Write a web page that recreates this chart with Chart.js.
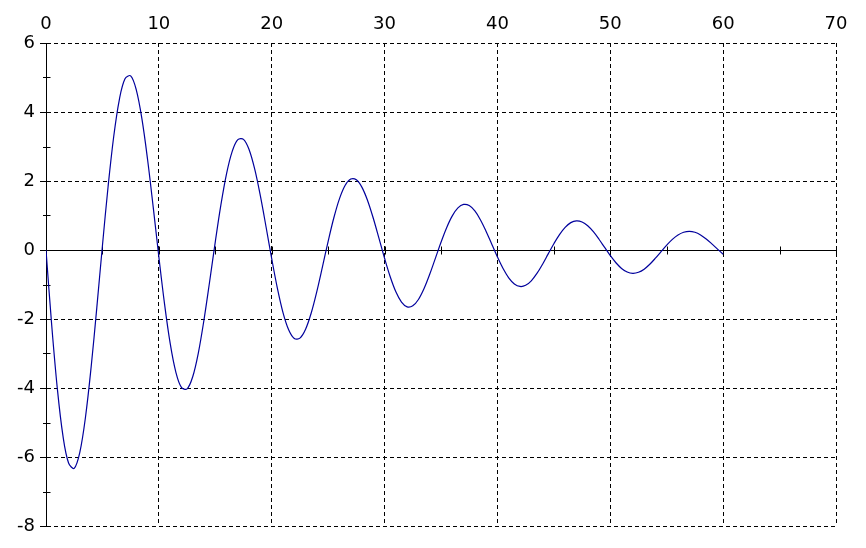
<!DOCTYPE html>
<html>
<head>
<meta charset="utf-8">
<script src="https://cdn.jsdelivr.net/npm/chart.js@4/dist/chart.umd.min.js"></script>
<style>
  html, body { margin: 0; padding: 0; background: #fff; }
  #wrap { width: 866px; height: 548px; }
</style>
</head>
<body>
<div id="wrap"><canvas id="myChart"></canvas></div>
<script>
// sample positions along x, read every half unit
var xValues = [
  0, 0.5, 1, 1.5, 2, 2.5, 3, 3.5, 4, 4.5, 5, 5.5, 6, 6.5, 7, 7.5, 8, 8.5, 9, 9.5,
  10, 10.5, 11, 11.5, 12, 12.5, 13, 13.5, 14, 14.5, 15, 15.5, 16, 16.5, 17, 17.5, 18, 18.5, 19, 19.5,
  20, 20.5, 21, 21.5, 22, 22.5, 23, 23.5, 24, 24.5, 25, 25.5, 26, 26.5, 27, 27.5, 28, 28.5, 29, 29.5,
  30, 30.5, 31, 31.5, 32, 32.5, 33, 33.5, 34, 34.5, 35, 35.5, 36, 36.5, 37, 37.5, 38, 38.5, 39, 39.5,
  40, 40.5, 41, 41.5, 42, 42.5, 43, 43.5, 44, 44.5, 45, 45.5, 46, 46.5, 47, 47.5, 48, 48.5, 49, 49.5,
  50, 50.5, 51, 51.5, 52, 52.5, 53, 53.5, 54, 54.5, 55, 55.5, 56, 56.5, 57, 57.5, 58, 58.5, 59, 59.5,
  60
]

// curve values
var yValues = [
  0, -2.155, -4.005, -5.382, -6.173, -6.328, -5.858, -4.840, -3.392, -1.678,
  0.124, 1.834, 3.291, 4.362, 4.962, 5.048, 4.642, 3.799, 2.622, 1.243,
  -0.198, -1.555, -2.701, -3.533, -3.983, -4.025, -3.673, -2.979, -2.023, -0.913,
  0.237, 1.313, 2.214, 2.859, 3.197, 3.208, 2.907, 2.334, 1.559, 0.667,
  -0.252, -1.105, -1.813, -2.313, -2.565, -2.555, -2.297, -1.827, -1.199, -0.482,
  0.251, 0.927, 1.482, 1.869, 2.056, 2.034, 1.816, 1.429, 0.920, 0.344,
  -0.240, -0.775, -1.211, -1.509, -1.648, -1.619, -1.434, -1.117, -0.705, -0.242,
  0.223, 0.647, 0.989, 1.219, 1.320, 1.287, 1.131, 0.872, 0.539, 0.168,
  -0.203, -0.538, -0.806, -0.983, -1.057, -1.024, -0.893, -0.680, -0.411, -0.113,
  0.182, 0.447, 0.657, 0.793, 0.846, 0.813, 0.703, 0.530, 0.312, 0.074,
  -0.161, -0.370, -0.534, -0.639, -0.676, -0.646, -0.555, -0.413, -0.237, -0.046,
  0.141, 0.307, 0.435, 0.514, 0.541, 0.513, 0.437, 0.321, 0.179, 0.026,
  -0.123
]

var xMin = 0, xMax = 70, xStep = 10
var yMin = -8, yMax = 6, yStep = 2
var xMinorTicks = [5, 10, 15, 20, 25, 30, 35, 40, 45, 50, 55, 60, 65, 70]
var yMinorTicks = [-7, -5, -3, -1, 1, 3, 5]

var points = []
xValues.forEach((x, i) => {
  points.push({x: x, y: yValues[i]})
})

// zero line with its tick marks, and the small ticks on the y axis
const axisExtras = {
  id: 'axisExtras',
  beforeDatasetsDraw(chart) {
    const c = chart.ctx
    const xs = chart.scales.x
    const ys = chart.scales.y
    const y0 = Math.round(ys.getPixelForValue(0)) + 0.5
    c.save()
    c.strokeStyle = '#000'
    c.lineWidth = 1
    c.setLineDash([])
    c.beginPath()
    c.moveTo(xs.left - 6, y0)
    c.lineTo(xs.right, y0)
    xMinorTicks.forEach(v => {
      const px = Math.round(xs.getPixelForValue(v)) + 0.5
      c.moveTo(px, y0 - 4)
      c.lineTo(px, y0 + 4)
    })
    const ax = Math.round(ys.right) + 0.5
    yMinorTicks.forEach(v => {
      const py = Math.round(ys.getPixelForValue(v)) + 0.5
      c.moveTo(ax - 3.5, py)
      c.lineTo(ax + 4, py)
    })
    c.stroke()
    c.restore()
  }
}

const ctx = document.getElementById('myChart')
new Chart(ctx, {
  type: 'line',
  data: {
    datasets: [{
      label: 'y',
      data: points,
      borderColor: '#00009c',
      borderWidth: 1.2,
      pointRadius: 0,
      tension: 0.35,
      fill: false
    }]
  },
  options: {
    responsive: true,
    maintainAspectRatio: false,
    animation: false,
    layout: { padding: { left: 0, top: 0, right: 30, bottom: 22 } },
    plugins: {
      legend: { display: false },
      tooltip: { enabled: false }
    },
    scales: {
      x: {
        type: 'linear',
        position: 'top',
        min: xMin,
        max: xMax,
        ticks: {
          stepSize: xStep,
          color: '#000',
          padding: 8,
          font: { family: 'DejaVu Sans', size: 18 }
        },
        grid: {
          color: '#000',
          lineWidth: 1,
          drawTicks: false
        },
        border: { display: false, dash: [4, 3] },
        afterFit: (scale) => { scale.height = 43 }
      },
      y: {
        type: 'linear',
        min: yMin,
        max: yMax,
        ticks: {
          stepSize: yStep,
          color: '#000',
          padding: 5,
          font: { family: 'DejaVu Sans', size: 18 }
        },
        grid: {
          color: '#000',
          lineWidth: 1,
          drawTicks: true,
          tickLength: 6,
          tickColor: '#000'
        },
        border: {
          display: true,
          color: '#000',
          width: 1,
          dash: (c) => (c.tick && c.tick.value !== 0) ? [4, 3] : []
        },
        afterFit: (scale) => { scale.width = 46 }
      }
    }
  },
  plugins: [axisExtras]
})
</script>
</body>
</html>
